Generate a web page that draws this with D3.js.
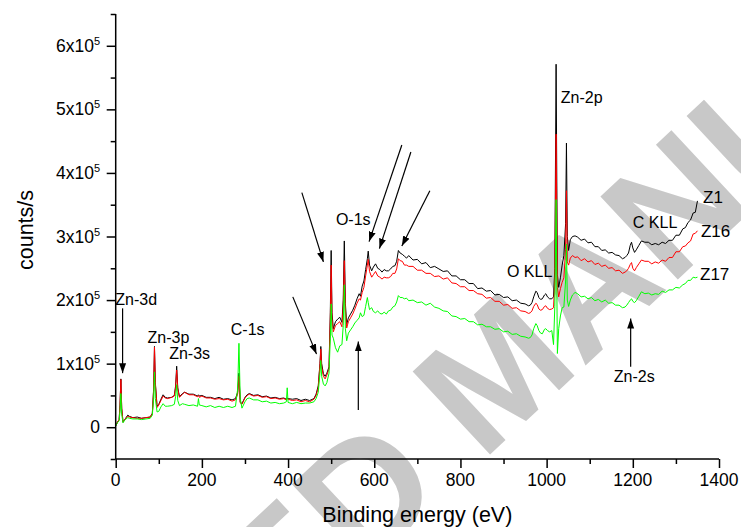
<!DOCTYPE html>
<html>
<head>
<meta charset="utf-8">
<script src="https://cdn.jsdelivr.net/npm/d3@7/dist/d3.min.js"></script>
<style>
  body { margin: 0; background: #fff; }
  svg { display: block; font-family: "Liberation Sans", Arial, sans-serif; }
</style>
</head>
<body>
<div id="chart"></div>
<script>
// Binding energy grid (eV), shared by the three spectra
const energy = [
  0, 4, 8, 10, 12, 14, 17, 22, 28, 32,
  40, 50, 60, 70, 80, 85, 88, 90, 92, 96,
  100, 105, 110, 115, 120, 130, 136, 139, 141.5, 144,
  148, 155, 160, 170, 180, 190, 192, 194, 200, 210,
  220, 230, 240, 250, 260, 270, 278, 283, 286, 289,
  293, 300, 305, 310, 320, 330, 340, 350, 360, 370,
  380, 390, 396, 398, 400, 410, 420, 430, 440, 450,
  460, 465, 470, 474, 476, 478, 482, 486, 490, 495,
  498, 500, 502, 505, 510, 515, 520, 525, 528, 530.5,
  533, 536, 540, 545, 550, 555, 560, 565, 568, 572,
  576, 580, 584, 586, 589, 594, 598, 603, 608, 613,
  618, 623, 628, 633, 638, 643, 648, 652, 656, 660,
  665, 670, 675, 680, 690, 700, 710, 720, 730, 740,
  750, 760, 770, 780, 790, 800, 810, 820, 830, 840,
  850, 860, 870, 880, 890, 900, 910, 920, 930, 940,
  950, 958, 962, 966, 970, 975, 978, 982, 986, 990,
  995, 998, 1002, 1007, 1012, 1016, 1019, 1022, 1025, 1028,
  1032, 1036, 1040, 1044, 1046, 1048, 1051, 1055, 1060, 1066,
  1072, 1080, 1088, 1096, 1104, 1112, 1120, 1128, 1136, 1144,
  1152, 1160, 1168, 1176, 1182, 1186, 1190, 1194, 1197, 1200,
  1204, 1208, 1214, 1220, 1228, 1236, 1244, 1252, 1260, 1268,
  1276, 1284, 1292, 1300, 1308, 1316, 1322, 1328, 1334, 1340, 1345, 1350
];

// counts/s in units of 1x10^5
const z1 = [
  0.02, 0.08, 0.12, 0.35, 0.76, 0.30, 0.08, 0.13, 0.19, 0.17,
  0.15, 0.16, 0.14, 0.15, 0.16, 0.22, 0.60, 1.27, 0.70, 0.33,
  0.36, 0.44, 0.51, 0.47, 0.46, 0.47, 0.50, 0.65, 0.96, 0.62,
  0.48, 0.53, 0.55, 0.52, 0.52, 0.49, 0.51, 0.49, 0.50, 0.47,
  0.47, 0.45, 0.47, 0.44, 0.45, 0.43, 0.45, 0.55, 0.85, 0.40,
  0.37, 0.47, 0.51, 0.53, 0.50, 0.51, 0.48, 0.49, 0.46, 0.47,
  0.45, 0.46, 0.44, 0.46, 0.45, 0.44, 0.45, 0.42, 0.44, 0.42,
  0.45, 0.52, 0.65, 1.00, 1.27, 1.00, 0.84, 0.80, 0.85, 0.95,
  1.80, 2.78, 1.80, 1.55, 1.66, 1.70, 1.73, 1.65, 2.00, 2.93,
  1.95, 1.62, 1.72, 1.78, 1.84, 1.92, 2.02, 2.10, 2.06, 2.22,
  2.30, 2.48, 2.65, 2.77, 2.55, 2.46, 2.52, 2.57, 2.50, 2.48,
  2.44, 2.48, 2.46, 2.46, 2.49, 2.53, 2.54, 2.61, 2.78, 2.74,
  2.72, 2.69, 2.66, 2.70, 2.63, 2.64, 2.57, 2.59, 2.51, 2.53,
  2.49, 2.45, 2.46, 2.38, 2.38, 2.32, 2.32, 2.26, 2.26, 2.18,
  2.19, 2.14, 2.15, 2.08, 2.09, 2.04, 2.05, 1.99, 2.00, 1.95,
  1.94, 1.91, 1.92, 1.96, 2.05, 2.14, 2.12, 2.04, 2.01, 2.02,
  2.08, 2.10, 2.05, 2.02, 2.02, 2.05, 2.50, 5.71, 2.40, 2.20,
  2.35, 2.55, 2.70, 3.20, 4.47, 3.00, 2.78, 2.95, 3.00, 3.01,
  2.99, 2.94, 2.96, 2.90, 2.91, 2.84, 2.84, 2.78, 2.79, 2.74,
  2.75, 2.71, 2.70, 2.65, 2.67, 2.70, 2.74, 2.86, 2.91, 2.82,
  2.75, 2.79, 2.86, 2.93, 2.91, 2.91, 2.87, 2.89, 2.87, 2.91,
  2.89, 2.94, 2.94, 3.02, 3.02, 3.12, 3.14, 3.22, 3.26, 3.37, 3.38, 3.56
];

const z16 = [
  0.02, 0.08, 0.12, 0.34, 0.75, 0.29, 0.08, 0.13, 0.17, 0.16,
  0.15, 0.14, 0.14, 0.15, 0.16, 0.21, 0.58, 1.26, 0.68, 0.31,
  0.35, 0.42, 0.49, 0.46, 0.45, 0.47, 0.49, 0.62, 0.90, 0.60,
  0.47, 0.52, 0.55, 0.51, 0.51, 0.48, 0.50, 0.47, 0.49, 0.46,
  0.46, 0.44, 0.45, 0.43, 0.44, 0.41, 0.43, 0.52, 0.80, 0.38,
  0.36, 0.46, 0.50, 0.52, 0.49, 0.50, 0.47, 0.48, 0.45, 0.46,
  0.44, 0.45, 0.43, 0.45, 0.44, 0.42, 0.43, 0.40, 0.42, 0.40,
  0.44, 0.50, 0.62, 0.98, 1.23, 0.95, 0.80, 0.76, 0.82, 0.92,
  1.70, 2.55, 1.70, 1.50, 1.60, 1.63, 1.66, 1.58, 1.90, 2.62,
  1.85, 1.56, 1.66, 1.72, 1.78, 1.86, 1.95, 2.02, 2.00, 2.12,
  2.20, 2.38, 2.55, 2.64, 2.45, 2.36, 2.40, 2.45, 2.38, 2.36,
  2.33, 2.36, 2.35, 2.35, 2.37, 2.42, 2.42, 2.49, 2.65, 2.62,
  2.61, 2.55, 2.55, 2.53, 2.53, 2.47, 2.47, 2.42, 2.42, 2.37,
  2.38, 2.33, 2.35, 2.27, 2.26, 2.21, 2.21, 2.15, 2.15, 2.10,
  2.09, 2.03, 2.04, 1.98, 1.98, 1.92, 1.93, 1.87, 1.88, 1.83,
  1.82, 1.79, 1.80, 1.83, 1.90, 1.95, 1.93, 1.86, 1.84, 1.85,
  1.90, 1.91, 1.87, 1.85, 1.86, 1.88, 2.30, 4.61, 2.20, 2.05,
  2.18, 2.28, 2.35, 2.80, 3.72, 2.60, 2.55, 2.66, 2.70, 2.67,
  2.68, 2.62, 2.65, 2.60, 2.62, 2.56, 2.58, 2.53, 2.55, 2.50,
  2.51, 2.46, 2.47, 2.42, 2.44, 2.46, 2.50, 2.56, 2.59, 2.50,
  2.46, 2.51, 2.57, 2.63, 2.61, 2.61, 2.57, 2.60, 2.58, 2.63,
  2.61, 2.67, 2.67, 2.76, 2.76, 2.84, 2.85, 2.90, 2.93, 3.04, 3.05, 3.09
];

const z17 = [
  0.02, 0.07, 0.10, 0.25, 0.53, 0.20, 0.07, 0.12, 0.15, 0.14,
  0.13, 0.13, 0.12, 0.13, 0.14, 0.19, 0.45, 0.87, 0.45, 0.24,
  0.25, 0.32, 0.37, 0.33, 0.33, 0.34, 0.36, 0.48, 0.67, 0.42,
  0.34, 0.37, 0.36, 0.34, 0.35, 0.33, 0.45, 0.35, 0.34, 0.32,
  0.34, 0.31, 0.33, 0.31, 0.33, 0.31, 0.33, 0.60, 1.32, 0.45,
  0.30, 0.40, 0.45, 0.46, 0.43, 0.43, 0.40, 0.41, 0.38, 0.39,
  0.37, 0.38, 0.40, 0.62, 0.39, 0.37, 0.39, 0.37, 0.38, 0.38,
  0.40, 0.45, 0.55, 0.85, 1.05, 0.80, 0.68, 0.65, 0.70, 0.85,
  1.40, 1.94, 1.45, 1.40, 1.25, 1.18, 1.28, 1.30, 1.60, 2.24,
  1.55, 1.36, 1.48, 1.53, 1.58, 1.64, 1.68, 1.72, 1.80, 1.74,
  1.76, 1.90, 2.04, 1.96, 1.85, 1.88, 1.82, 1.80, 1.83, 1.79,
  1.78, 1.81, 1.78, 1.83, 1.84, 1.89, 1.91, 1.97, 2.07, 2.04,
  2.04, 2.02, 2.03, 1.99, 2.00, 1.96, 1.97, 1.92, 1.95, 1.89,
  1.87, 1.83, 1.82, 1.75, 1.74, 1.70, 1.71, 1.66, 1.66, 1.61,
  1.62, 1.58, 1.58, 1.54, 1.55, 1.50, 1.51, 1.46, 1.47, 1.43,
  1.42, 1.40, 1.41, 1.45, 1.55, 1.63, 1.60, 1.52, 1.48, 1.47,
  1.54, 1.55, 1.52, 1.50, 1.52, 1.30, 1.90, 3.58, 1.16, 1.55,
  1.75, 1.88, 1.89, 2.30, 2.88, 2.00, 1.90, 2.00, 2.08, 2.12,
  2.10, 2.05, 2.06, 2.02, 2.04, 1.99, 2.01, 1.97, 2.00, 1.95,
  1.96, 1.92, 1.92, 1.88, 1.89, 1.92, 1.96, 2.00, 2.02, 1.98,
  1.96, 1.99, 2.06, 2.13, 2.10, 2.11, 2.08, 2.10, 2.09, 2.14,
  2.12, 2.16, 2.16, 2.20, 2.19, 2.24, 2.26, 2.31, 2.31, 2.36, 2.35, 2.36
];

const seriesColors = ["#000000", "#ff0000", "#00ff00"];

const xTicks = [0, 200, 400, 600, 800, 1000, 1200, 1400];
const yTicks = [0, 1, 2, 3, 4, 5, 6];

// peak labels: [text, energy, counts(1e5)]
const peakLabels = [
  ["Zn-3d", -1, 1.92],
  ["Zn-3p", 74, 1.32],
  ["Zn-3s", 124, 1.07],
  ["C-1s", 267, 1.45],
  ["O-1s", 511, 3.18],
  ["Zn-2p", 1033, 5.10],
  ["O KLL", 908, 2.37],
  ["C KLL", 1200, 3.13],
  ["Zn-2s", 1156, 0.71]
];
const seriesLabels = [
  ["Z1", 1363, 3.53],
  ["Z16", 1358, 3.00],
  ["Z17", 1356, 2.31]
];

// arrows: [fromE, fromV, toE, toV]
const arrows = [
  [16, 1.87, 16, 0.85],
  [411, 2.05, 466, 1.15],
  [432, 3.69, 482, 2.60],
  [563, 0.27, 563, 1.35],
  [664, 4.44, 588, 2.92],
  [685, 4.33, 612, 2.81],
  [729, 3.72, 664, 2.85],
  [1195, 0.95, 1195, 1.71]
];

const width = 741, height = 527;
const margin = { left: 115.7, right: 22, top: 14, bottom: 68 };

const svg = d3.select("#chart").append("svg")
  .attr("width", width)
  .attr("height", height);

const x = d3.scaleLinear().domain([0, 1400]).range([margin.left, width - margin.right]);
const y = d3.scaleLinear().domain([-0.5, 6.5]).range([height - margin.bottom, margin.top]);

// watermark behind the plot
const wm = svg.append("g")
  .attr("transform", "translate(482,462) rotate(-43)")
  .attr("fill", "#c8c8c8")
  .style("font-weight", "bold")
  .style("font-size", "165px");
wm.append("text").attr("x", -46).attr("text-anchor", "end").text("ACCEPTED");
wm.append("text").attr("x", 0).text("MANUSCRIPT");

// spectra
const line = d3.line()
  .x(d => x(d[0]))
  .y(d => y(d[1]));

[z1, z16, z17].forEach((vals, i) => {
  svg.append("path")
    .datum(energy.map((e, j) => [e, vals[j]]))
    .attr("fill", "none")
    .attr("stroke", seriesColors[i])
    .attr("stroke-width", 1)
    .attr("stroke-linejoin", "round")
    .attr("d", line);
});

// axes
const xAxis = svg.append("g").attr("transform", `translate(0,${y(-0.5)})`);
xAxis.call(d3.axisBottom(x).tickValues(d3.range(0, 1401, 100)).tickSize(5).tickFormat(""));
xAxis.call(g => g.selectAll(".tick").filter(d => d % 200 === 0).select("line").attr("y2", 9));
xAxis.select(".domain").attr("d", `M${x(0)},0H${x(1400)}`);
xAxis.selectAll("line, path").attr("stroke", "#000").attr("stroke-width", 1.5);

xAxis.selectAll(".lbl")
  .data(xTicks)
  .enter().append("text")
  .attr("class", "lbl")
  .attr("x", d => x(d))
  .attr("y", 27)
  .attr("text-anchor", "middle")
  .style("font-size", "17.5px")
  .attr("fill", "#000")
  .text(d => d);

const yAxis = svg.append("g").attr("transform", `translate(${x(0)},0)`);
yAxis.call(d3.axisLeft(y).tickValues(d3.range(-0.5, 6.51, 0.5)).tickSize(5).tickFormat(""));
yAxis.call(g => g.selectAll(".tick").filter(d => Number.isInteger(d)).select("line").attr("x2", -9));
yAxis.select(".domain").attr("d", `M0,${y(-0.5)}V${y(6.5)}`);
yAxis.selectAll("line, path").attr("stroke", "#000").attr("stroke-width", 1.5);

const yLbl = yAxis.selectAll(".lbl")
  .data(yTicks)
  .enter().append("text")
  .attr("class", "lbl")
  .attr("x", -15.7)
  .attr("y", d => y(d) + 6)
  .attr("text-anchor", "end")
  .style("font-size", "17.5px")
  .attr("fill", "#000");
yLbl.each(function (d) {
  const t = d3.select(this);
  if (d === 0) { t.text("0"); return; }
  t.append("tspan").text(`${d}x10`);
  t.append("tspan").attr("dy", -7).style("font-size", "11px").text("5");
});

// axis titles
svg.append("text")
  .attr("x", (x(0) + x(1400)) / 2)
  .attr("y", 522)
  .attr("text-anchor", "middle")
  .style("font-size", "21.5px")
  .text("Binding energy (eV)");

svg.append("text")
  .attr("transform", "translate(33,230) rotate(-90)")
  .attr("text-anchor", "middle")
  .style("font-size", "21.5px")
  .text("counts/s");

// arrows
const defs = svg.append("defs");
defs.append("marker")
  .attr("id", "head")
  .attr("viewBox", "0 0 10 10")
  .attr("refX", 10).attr("refY", 5)
  .attr("markerWidth", 10).attr("markerHeight", 10)
  .attr("markerUnits", "userSpaceOnUse")
  .attr("orient", "auto")
  .append("path")
  .attr("d", "M0,1.5L10,5L0,8.5Z")
  .attr("fill", "#000");

svg.selectAll(".arrow")
  .data(arrows)
  .enter().append("line")
  .attr("class", "arrow")
  .attr("x1", d => x(d[0])).attr("y1", d => y(d[1]))
  .attr("x2", d => x(d[2])).attr("y2", d => y(d[3]))
  .attr("stroke", "#000")
  .attr("stroke-width", 1.2)
  .attr("marker-end", "url(#head)");

// labels
svg.selectAll(".peak")
  .data(peakLabels)
  .enter().append("text")
  .attr("class", "peak")
  .attr("x", d => x(d[1]))
  .attr("y", d => y(d[2]))
  .style("font-size", "16px")
  .text(d => d[0]);

svg.selectAll(".slbl")
  .data(seriesLabels)
  .enter().append("text")
  .attr("class", "slbl")
  .attr("x", d => x(d[1]))
  .attr("y", d => y(d[2]))
  .style("font-size", "17px")
  .text(d => d[0]);
</script>
</body>
</html>
